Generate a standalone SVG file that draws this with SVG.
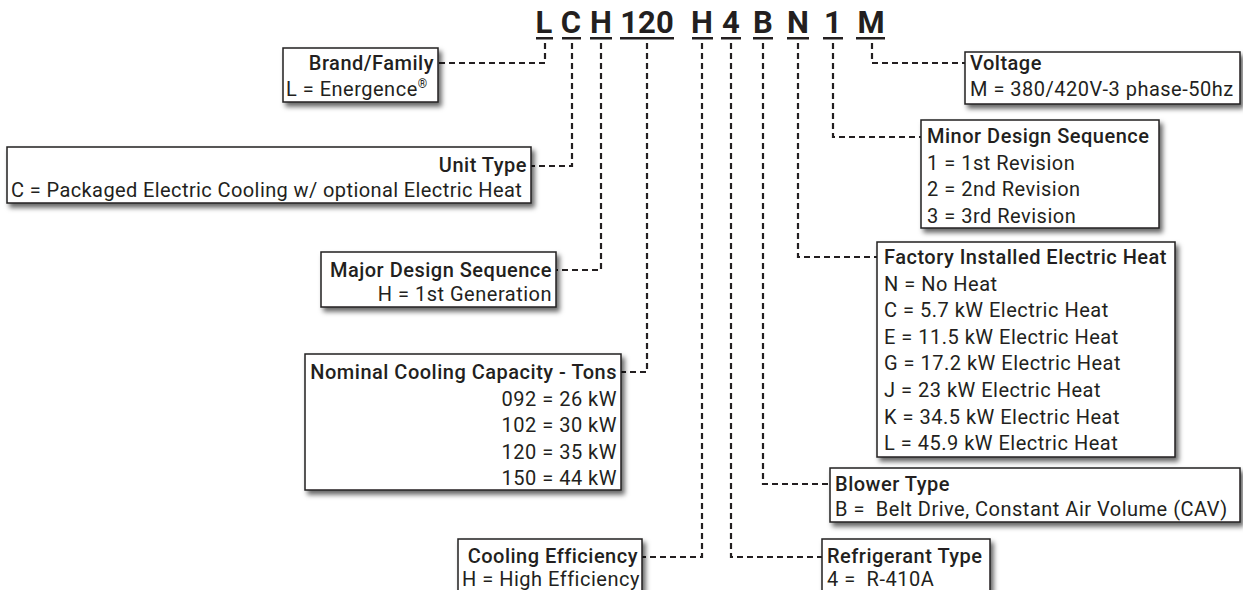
<svg xmlns="http://www.w3.org/2000/svg" width="1243" height="590" viewBox="0 0 1243 590">
<defs>
<filter id="sh" x="-10%" y="-20%" width="130%" height="160%">
<feDropShadow dx="3" dy="4" stdDeviation="2.8" flood-color="#000" flood-opacity="0.6"/>
</filter>
<style>
.box{fill:#fff;stroke:#231f20;stroke-width:1.5;filter:url(#sh)}
.t{font-family:Roboto,"Liberation Sans",sans-serif;font-size:20px;letter-spacing:0.5px;fill:#231f20;white-space:pre}
.h{font-weight:500}
.r{text-anchor:end}
.code{font-family:Roboto,"Liberation Sans",sans-serif;font-size:31px;font-weight:700;fill:#231f20;text-anchor:middle}
.ul{fill:#231f20}
.c{fill:none;stroke:#231f20;stroke-width:2.2;stroke-dasharray:6 4}
</style>
</defs>
<rect width="1243" height="590" fill="#fff"/>

<g id="code">
<text class="code" x="544" y="33">L</text>
<text class="code" x="571" y="33">C</text>
<text class="code" x="601" y="33">H</text>
<text class="code" x="647" y="33">120</text>
<text class="code" x="702" y="33">H</text>
<text class="code" x="731" y="33">4</text>
<text class="code" x="763" y="33">B</text>
<text class="code" x="798" y="33">N</text>
<text class="code" x="833" y="33">1</text>
<text class="code" x="871" y="33">M</text>
<rect class="ul" x="536" y="37" width="17" height="2.5"/>
<rect class="ul" x="562" y="37" width="19" height="2.5"/>
<rect class="ul" x="590" y="37" width="22" height="2.5"/>
<rect class="ul" x="620" y="37" width="54" height="2.5"/>
<rect class="ul" x="692" y="37" width="21" height="2.5"/>
<rect class="ul" x="721" y="37" width="20" height="2.5"/>
<rect class="ul" x="753" y="37" width="20" height="2.5"/>
<rect class="ul" x="787" y="37" width="22" height="2.5"/>
<rect class="ul" x="823" y="37" width="20" height="2.5"/>
<rect class="ul" x="856" y="37" width="29" height="2.5"/>
</g>

<g id="connectors">
<path class="c" d="M545 43 V63 H438"/>
<path class="c" d="M572 43 V166 H531"/>
<path class="c" d="M601 43 V270 H556"/>
<path class="c" d="M647 43 V372 H621"/>
<path class="c" d="M702 43 V557 H642"/>
<path class="c" d="M731 43 V557 H822"/>
<path class="c" d="M763 43 V484 H830"/>
<path class="c" d="M798 43 V257 H877"/>
<path class="c" d="M833 43 V137 H921"/>
<path class="c" d="M872 43 V63 H965"/>
</g>

<g id="brand">
<rect class="box" x="283" y="48" width="155" height="54"/>
<text class="t h r" x="434" y="70">Brand/Family</text>
<text class="t" x="286" y="96">L = Energence<tspan font-size="12" dy="-8">®</tspan></text>
</g>

<g id="unit-type">
<rect class="box" x="7" y="147" width="524" height="56"/>
<text class="t h r" x="527" y="172">Unit Type</text>
<text class="t" x="11" y="197" style="letter-spacing:0.4px">C = Packaged Electric Cooling w/ optional Electric Heat</text>
</g>

<g id="major-design">
<rect class="box" x="321" y="252" width="235" height="55"/>
<text class="t h r" x="552" y="277">Major Design Sequence</text>
<text class="t r" x="552" y="301">H = 1st Generation</text>
</g>

<g id="nominal-capacity">
<rect class="box" x="305" y="354" width="316" height="136"/>
<text class="t h r" x="617" y="379">Nominal Cooling Capacity - Tons</text>
<text class="t r" x="617" y="405.5">092 = 26 kW</text>
<text class="t r" x="617" y="432">102 = 30 kW</text>
<text class="t r" x="617" y="458.5">120 = 35 kW</text>
<text class="t r" x="617" y="485">150 = 44 kW</text>
</g>

<g id="cooling-efficiency">
<rect class="box" x="458" y="539" width="184" height="60"/>
<text class="t h r" x="638" y="563">Cooling Efficiency</text>
<text class="t" x="462" y="586">H = High Efficiency</text>
</g>

<g id="voltage">
<rect class="box" x="965" y="52" width="275" height="52"/>
<text class="t h" x="970" y="70">Voltage</text>
<text class="t" x="970" y="96">M = 380/420V-3 phase-50hz</text>
</g>

<g id="minor-design">
<rect class="box" x="921" y="120" width="238" height="108"/>
<text class="t h" x="927" y="143">Minor Design Sequence</text>
<text class="t" x="927" y="169.6">1 = 1st Revision</text>
<text class="t" x="927" y="196.2">2 = 2nd Revision</text>
<text class="t" x="927" y="222.8">3 = 3rd Revision</text>
</g>

<g id="electric-heat">
<rect class="box" x="877" y="242" width="298" height="215"/>
<text class="t h" x="884" y="264">Factory Installed Electric Heat</text>
<text class="t" x="884" y="290.6">N = No Heat</text>
<text class="t" x="884" y="317.2">C = 5.7 kW Electric Heat</text>
<text class="t" x="884" y="343.8">E = 11.5 kW Electric Heat</text>
<text class="t" x="884" y="370.4">G = 17.2 kW Electric Heat</text>
<text class="t" x="884" y="397">J = 23 kW Electric Heat</text>
<text class="t" x="884" y="423.6">K = 34.5 kW Electric Heat</text>
<text class="t" x="884" y="450.2">L = 45.9 kW Electric Heat</text>
</g>

<g id="blower-type">
<rect class="box" x="830" y="468" width="410" height="54"/>
<text class="t h" x="835" y="491">Blower Type</text>
<text class="t" x="835" y="516">B =  Belt Drive, Constant Air Volume (CAV)</text>
</g>

<g id="refrigerant-type">
<rect class="box" x="822" y="539" width="168" height="60"/>
<text class="t h" x="827" y="563">Refrigerant Type</text>
<text class="t" x="827" y="586">4 =  R-410A</text>
</g>
</svg>
